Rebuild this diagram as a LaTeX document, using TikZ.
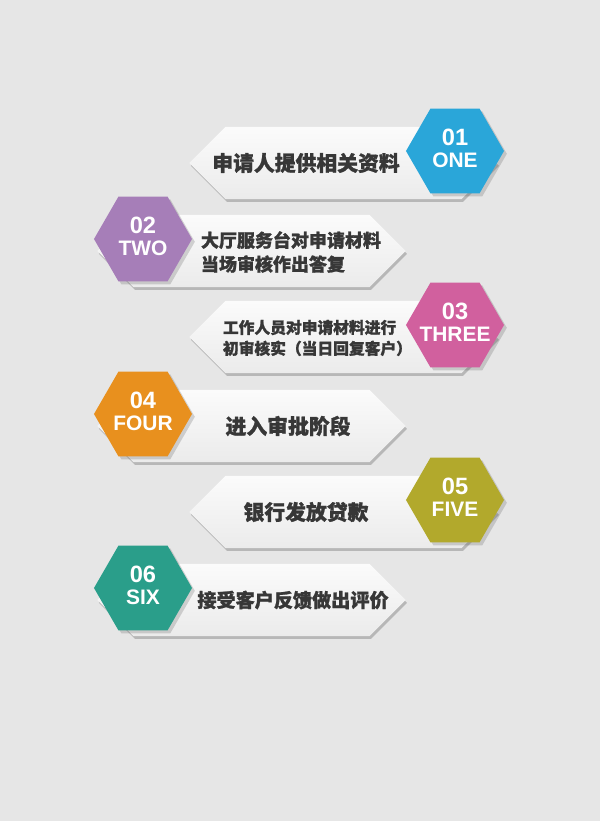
\documentclass[tikz,border=0pt]{standalone}
\usepackage{fontspec}
\usepackage{xcolor}
\usetikzlibrary{shapes.geometric,shapes.symbols,shadows}
\setmainfont{Liberation Sans}
\newfontfamily\cjk{Noto Sans CJK SC}[BoldFeatures={FakeBold=1.2}]

\definecolor{pagebg}{RGB}{230,230,230}
\definecolor{bantop}{RGB}{251,251,251}
\definecolor{banbot}{RGB}{235,235,235}
\definecolor{inkgray}{RGB}{55,55,55}
\definecolor{hexone}{RGB}{42,166,217}
\definecolor{hextwo}{RGB}{166,126,184}
\definecolor{hexthree}{RGB}{209,96,158}
\definecolor{hexfour}{RGB}{232,144,30}
\definecolor{hexfive}{RGB}{178,169,44}
\definecolor{hexsix}{RGB}{42,158,138}

\begin{document}
\begin{tikzpicture}[x=0.025cm, y=-0.025cm,
    banner/.style={signal, signal to=east and west, signal pointer angle=90,
        minimum width=7.7cm, minimum height=1.8cm, inner sep=0pt, draw=none,
        top color=bantop, bottom color=banbot,
        drop shadow={shadow xshift=1pt, shadow yshift=-2pt, opacity=0.3, fill=black!70}},
    hexa/.style={regular polygon, regular polygon sides=6, minimum size=2.45cm,
        inner sep=0pt, draw=none,
        drop shadow={shadow xshift=2pt, shadow yshift=-2pt, opacity=0.22, fill=black!70}},
    numtext/.style={text=white, align=center, inner sep=0pt, yshift=2pt,
        font=\bfseries\fontsize{14.9}{15.6}\selectfont},
    cntext/.style={text=inkgray, font=\cjk\bfseries}]
\fill[pagebg] (0,0) rectangle (600,821);
\useasboundingbox (0,0) rectangle (600,821);

\node[banner] (b1) at (343.5,163) {};
\node[hexa, fill=hexone] (h1) at (455,151) {};
\node[numtext] (n1) at (h1) {{\fontsize{16.8}{15.6}\selectfont 01}\\ONE};
\node[cntext, font=\cjk\bfseries\fontsize{14.8}{17}\selectfont] (t1) at (306,163) {申请人提供相关资料};

\node[banner] (b2) at (251.5,251) {};
\node[hexa, fill=hextwo] (h2) at (143,239) {};
\node[numtext] (n2) at (h2) {{\fontsize{16.8}{15.6}\selectfont 02}\\TWO};
\node[cntext, anchor=west, align=left, font=\cjk\bfseries\fontsize{12.8}{17}\selectfont] (t2) at (196,252) {大厅服务台对申请材料\\当场审核作出答复};

\node[banner] (b3) at (343.5,337) {};
\node[hexa, fill=hexthree] (h3) at (455,325) {};
\node[numtext] (n3) at (h3) {{\fontsize{16.8}{15.6}\selectfont 03}\\THREE};
\node[cntext, anchor=west, align=left, font=\cjk\bfseries\fontsize{11.2}{14.9}\selectfont] (t3) at (218,338) {工作人员对申请材料进行\\初审核实（当日回复客户）};

\node[banner] (b4) at (251.5,426) {};
\node[hexa, fill=hexfour] (h4) at (143,414) {};
\node[numtext] (n4) at (h4) {{\fontsize{16.8}{15.6}\selectfont 04}\\FOUR};
\node[cntext, font=\cjk\bfseries\fontsize{14.8}{17}\selectfont] (t4) at (288,426) {进入审批阶段};

\node[banner] (b5) at (343.5,512) {};
\node[hexa, fill=hexfive] (h5) at (455,500) {};
\node[numtext] (n5) at (h5) {{\fontsize{16.8}{15.6}\selectfont 05}\\FIVE};
\node[cntext, font=\cjk\bfseries\fontsize{14.8}{17}\selectfont] (t5) at (306,512) {银行发放贷款};

\node[banner] (b6) at (251.5,600) {};
\node[hexa, fill=hexsix] (h6) at (143,588) {};
\node[numtext] (n6) at (h6) {{\fontsize{16.8}{15.6}\selectfont 06}\\SIX};
\node[cntext, font=\cjk\bfseries\fontsize{13.6}{17}\selectfont] (t6) at (293,600) {接受客户反馈做出评价};
\end{tikzpicture}
\end{document}
